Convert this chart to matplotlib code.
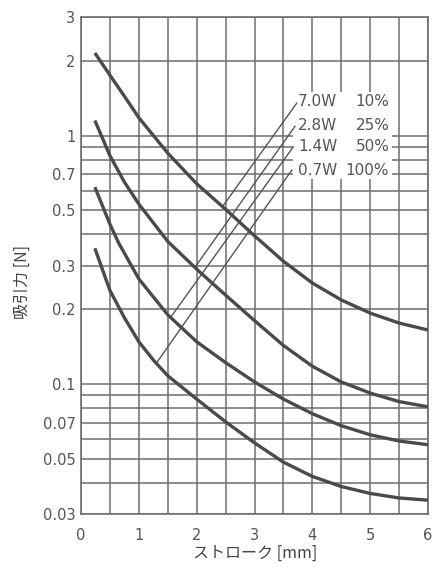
import numpy as np
import matplotlib
matplotlib.use("Agg")
import matplotlib.pyplot as plt
from matplotlib.patches import Rectangle

# stroke [mm] vs attraction force [N]
x_70w = [0.24, 0.5, 0.75, 1.0, 1.5, 2.0, 2.5, 3.0, 3.5, 4.0, 4.5, 5.0, 5.5, 6.0]
f_70w = [2.15, 1.75, 1.44, 1.18, 0.85, 0.64, 0.505, 0.395, 0.312, 0.255, 0.218, 0.193, 0.176, 0.165]

x_28w = [0.24, 0.5, 0.75, 1.0, 1.5, 2.0, 2.5, 3.0, 3.5, 4.0, 4.5, 5.0, 5.5, 6.0]
f_28w = [1.15, 0.83, 0.65, 0.53, 0.375, 0.29, 0.228, 0.18, 0.143, 0.118, 0.102, 0.092, 0.085, 0.081]

x_14w = [0.24, 0.5, 0.65, 1.0, 1.5, 2.0, 2.5, 3.0, 3.5, 4.0, 4.5, 5.0, 5.5, 6.0]
f_14w = [0.62, 0.44, 0.37, 0.265, 0.19, 0.148, 0.122, 0.102, 0.087, 0.076, 0.068, 0.0625, 0.059, 0.057]

x_07w = [0.24, 0.5, 0.75, 1.0, 1.25, 1.5, 2.0, 2.5, 3.0, 3.5, 4.0, 4.5, 5.0, 5.5, 6.0]
f_07w = [0.352, 0.238, 0.185, 0.148, 0.125, 0.108, 0.087, 0.0705, 0.058, 0.0485, 0.0425, 0.0387, 0.0363, 0.0348, 0.0341]

power_labels = ['7.0W', '2.8W', '1.4W', '0.7W']
duty_labels = ['10%', '25%', '50%', '100%']
label_y = [1.365, 1.10, 0.90, 0.726]

# leader lines: start at label, end on curve
lead_x0 = [3.73, 3.70, 3.67, 3.645]
lead_y0 = [1.35, 1.09, 0.90, 0.726]
lead_x1 = [2.44, 1.97, 1.56, 1.31]
lead_y1 = [0.515, 0.295, 0.187, 0.122]

yticks_all = [0.03, 0.04, 0.05, 0.06, 0.07, 0.08, 0.09, 0.1, 0.2, 0.3, 0.4, 0.5,
              0.6, 0.7, 0.8, 0.9, 1, 2, 3]
ytick_text = {0.03: '0.03', 0.05: '0.05', 0.07: '0.07', 0.1: '0.1', 0.2: '0.2',
              0.3: '0.3', 0.5: '0.5', 0.7: '0.7', 1: '1', 2: '2', 3: '3'}
xticks_major = [0, 1, 2, 3, 4, 5, 6]
xticks_grid = np.arange(0, 6.01, 0.5)

grid_col = '#6e6e6e'
curve_col = '#4a4a4a'
text_col = '#555555'

fig = plt.figure(figsize=(4.34, 5.70), dpi=100)
ax = fig.add_axes([81/434, 1-514/570, (428-81)/434, (514-17)/570])

ax.set_yscale('log')
ax.set_xlim(0, 6)
ax.set_ylim(0.03, 3)

ax.set_yticks(yticks_all)
ax.set_yticklabels([ytick_text.get(v, '') for v in yticks_all])
ax.yaxis.set_minor_locator(matplotlib.ticker.NullLocator())
ax.set_xticks(xticks_grid)
ax.set_xticklabels([str(int(v)) if v in xticks_major else '' for v in xticks_grid])
ax.tick_params(length=0, labelsize=10.5, labelcolor=text_col)
ax.tick_params(axis='x', pad=10)
ax.tick_params(axis='y', pad=4)
ax.grid(True, color=grid_col, lw=1.1)
for s in ax.spines.values():
    s.set_color(grid_col)
    s.set_linewidth(1.2)

# white patch behind the legend text
ax.add_patch(Rectangle((3.66, 0.668), 1.71, 1.50-0.668, fc='white', ec='none', zorder=2))

for xs, fs in [(x_70w, f_70w), (x_28w, f_28w), (x_14w, f_14w), (x_07w, f_07w)]:
    ax.plot(xs, fs, color=curve_col, lw=2.4, solid_capstyle='butt', zorder=4)

for i in range(4):
    ax.plot([lead_x0[i], lead_x1[i]], [lead_y0[i], lead_y1[i]], color='#555555', lw=1.0, zorder=3)
    ax.text(3.75, label_y[i], power_labels[i], ha='left', va='center', fontsize=11,
            color=text_col, zorder=5)
    ax.text(5.33, label_y[i], duty_labels[i], ha='right', va='center', fontsize=11,
            color=text_col, zorder=5)

jp = ['Noto Sans CJK JP', 'DejaVu Sans']
fig.text(22/434, 1-282/570, '吸引力 [N]', rotation=90, ha='center', va='center',
         fontsize=11.5, color='#444444', family=jp)
fig.text(255/434, 1-553/570, 'ストローク [mm]', ha='center', va='center',
         fontsize=11.5, color='#444444', family=jp)

plt.savefig('out.png', dpi=100)
